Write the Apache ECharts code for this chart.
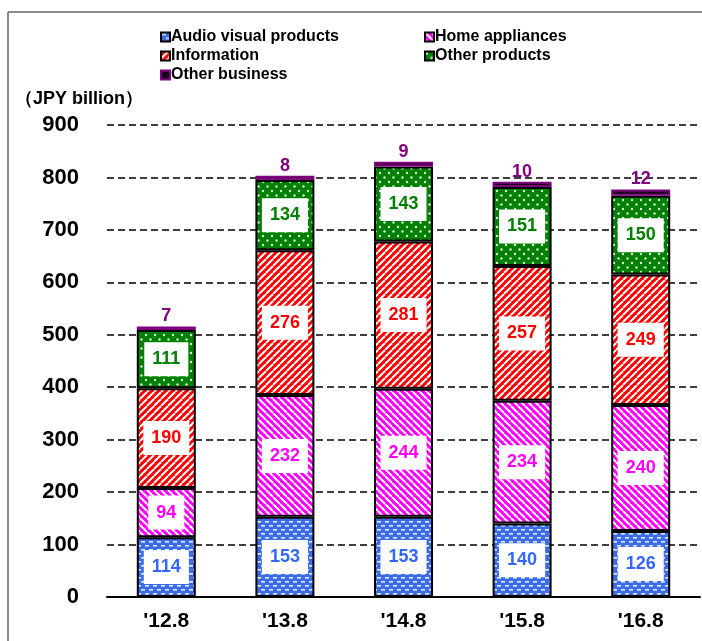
<!DOCTYPE html>
<html>
<head>
<meta charset="utf-8">
<script src="https://cdn.jsdelivr.net/npm/echarts@6/dist/echarts.min.js"></script>
<style>
  html, body { margin: 0; padding: 0; background: #fff; }
  #chart { width: 702px; height: 641px; }
</style>
</head>
<body>
<div id="chart"></div>
<script>
const categories = ["'12.8", "'13.8", "'14.8", "'15.8", "'16.8"];
const audioVisual = [114, 153, 153, 140, 126];
const homeAppliances = [94, 232, 244, 234, 240];
const information = [190, 276, 281, 257, 249];
const otherProducts = [111, 134, 143, 151, 150];
const otherBusiness = [7, 8, 9, 10, 12];
const yTicks = [0, 100, 200, 300, 400, 500, 600, 700, 800, 900];

const FONT = 'Liberation Sans';

// fill patterns
function makeTile(w, h, draw) {
  const c = document.createElement('canvas');
  c.width = w; c.height = h;
  draw(c.getContext('2d'));
  return { image: c, repeat: 'repeat' };
}
function stripes(color, up) {
  const s = 7;
  return makeTile(s, s, function (ctx) {
    ctx.fillStyle = color;
    ctx.fillRect(0, 0, s, s);
    ctx.strokeStyle = '#fff';
    ctx.lineWidth = 2;
    for (let k = -1; k <= 1; k++) {
      ctx.beginPath();
      if (up) { ctx.moveTo(k * s, s); ctx.lineTo(k * s + s, 0); }
      else { ctx.moveTo(k * s, 0); ctx.lineTo(k * s + s, s); }
      ctx.stroke();
    }
  });
}
const bluePattern = makeTile(8, 8, function (ctx) {
  ctx.fillStyle = '#3d6ee8';
  ctx.fillRect(0, 0, 8, 8);
  ctx.fillStyle = 'rgba(255,255,255,0.85)';
  ctx.fillRect(1, 1, 4, 1.6);
  ctx.fillRect(5, 5, 4, 1.6);
  ctx.fillRect(-3, 5, 4, 1.6);
});
const greenPattern = makeTile(9, 9, function (ctx) {
  ctx.fillStyle = '#008000';
  ctx.fillRect(0, 0, 9, 9);
  ctx.fillStyle = 'rgba(230,245,230,0.95)';
  [[2, 2], [6.5, 6.5]].forEach(function (p) {
    ctx.beginPath();
    ctx.arc(p[0], p[1], 1.2, 0, Math.PI * 2);
    ctx.fill();
  });
});

function innerLabel(color) {
  return {
    show: true,
    position: 'inside',
    backgroundColor: '#fff',
    padding: [8, 8],
    color: color,
    fontSize: 18,
    lineHeight: 18,
    fontWeight: 'bold',
    fontFamily: FONT
  };
}

function barSeries(name, data, fill, textColor) {
  return {
    name: name,
    type: 'bar',
    stack: 'total',
    barWidth: 59,
    data: data,
    itemStyle: { color: fill, borderColor: '#000', borderWidth: 2 },
    label: innerLabel(textColor)
  };
}

const legendText = { color: '#000', fontSize: 16, lineHeight: 16, fontWeight: 'bold', fontFamily: FONT, padding: [0, 0, 0, -4] };

const chart = echarts.init(document.getElementById('chart'));

chart.setOption({
  animation: false,
  grid: { left: 107, right: 2, top: 125, bottom: 44 },
  legend: [
    {
      left: 155, top: 24, orient: 'vertical', itemGap: 3,
      itemWidth: 9, itemHeight: 9, icon: 'rect',
      data: ['Audio visual products', 'Information', 'Other business'],
      textStyle: legendText
    },
    {
      left: 419, top: 24, orient: 'vertical', itemGap: 3,
      itemWidth: 9, itemHeight: 9, icon: 'rect',
      data: ['Home appliances', 'Other products'],
      textStyle: legendText
    }
  ],
  graphic: [
    { type: 'line', shape: { x1: 8, y1: 12, x2: 702, y2: 12 }, style: { stroke: '#666', lineWidth: 1.5 } },
    { type: 'line', shape: { x1: 8, y1: 12, x2: 8, y2: 641 }, style: { stroke: '#666', lineWidth: 1.5 } },
    {
      type: 'text', left: 15, top: 90,
      style: { text: '（JPY billion）', fill: '#000', fontSize: 18, fontWeight: 'bold', fontFamily: FONT }
    }
  ],
  xAxis: {
    type: 'category',
    data: categories,
    axisLine: { lineStyle: { color: '#000', width: 2 } },
    axisTick: { show: false },
    axisLabel: { color: '#000', fontSize: 21, fontWeight: 'bold', fontFamily: FONT, margin: 14 }
  },
  yAxis: {
    type: 'value',
    min: yTicks[0],
    max: yTicks[yTicks.length - 1],
    interval: 100,
    axisLine: { show: false },
    axisTick: { show: false },
    axisLabel: { color: '#000', fontSize: 22, fontWeight: 'bold', fontFamily: FONT, margin: 28 },
    splitLine: { lineStyle: { color: '#000', width: 1.5, type: [7, 4] } }
  },
  series: [
    barSeries('Audio visual products', audioVisual, bluePattern, '#3366ff'),
    barSeries('Home appliances', homeAppliances, stripes('#ff00ff', false), '#ff00ff'),
    barSeries('Information', information, stripes('#ff0000', true), '#ff0000'),
    barSeries('Other products', otherProducts, greenPattern, '#008000'),
    {
      name: 'Other business',
      type: 'bar',
      stack: 'total',
      barWidth: 59,
      data: otherBusiness,
      itemStyle: { color: '#1a001a', borderColor: '#800080', borderWidth: 2 },
      label: {
        show: true, position: 'top', distance: 1,
        color: '#800080', fontSize: 18, fontWeight: 'bold', fontFamily: FONT
      }
    }
  ]
});
</script>
</body>
</html>
